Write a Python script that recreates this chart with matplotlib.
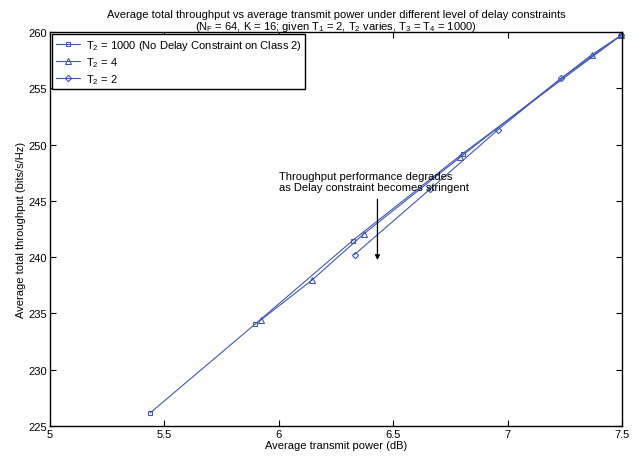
import numpy as np
import matplotlib
matplotlib.use("Agg")
import matplotlib.pyplot as plt

plt.rcParams['font.family'] = ['Liberation Sans', 'DejaVu Sans']
plt.rcParams['mathtext.fontset'] = 'custom'
plt.rcParams['mathtext.rm'] = 'Liberation Sans'
plt.rcParams['mathtext.it'] = 'Liberation Sans'

# Data
p_t1000 = [5.439, 5.896, 6.322, 6.803, 7.497]
r_t1000 = [226.19, 234.05, 241.47, 249.2, 259.73]

p_t4 = [5.92, 6.147, 6.371, 6.793, 7.368, 7.497]
r_t4 = [234.4, 238.0, 242.06, 248.9, 258.0, 259.73]

p_t2 = [6.331, 6.66, 6.958, 7.235, 7.497]
r_t2 = [240.24, 246.03, 251.33, 255.92, 259.73]

labels = [r'T$_2$ = 1000 (No Delay Constraint on Class 2)', r'T$_2$ = 4', r'T$_2$ = 2']
xticks = [5, 5.5, 6, 6.5, 7, 7.5]
xticklabels = ['5', '5.5', '6', '6.5', '7', '7.5']
yticks = [225, 230, 235, 240, 245, 250, 255, 260]

blue = '#4058b4'

fig = plt.figure(figsize=(6.38, 4.6), dpi=100)
ax = fig.add_axes([0.0784, 0.0717, 0.8966, 0.8563])

kw = dict(color=blue, lw=0.8, mfc='none', mec=blue, mew=0.8, clip_on=False)
ax.plot(p_t1000, r_t1000, marker='s', ms=3.5, label=labels[0], **kw)
ax.plot(p_t4, r_t4, marker='^', ms=4, label=labels[1], **kw)
ax.plot(p_t2, r_t2, marker='D', ms=3.2, label=labels[2], **kw)

ax.set_xlim(5, 7.5)
ax.set_ylim(225, 260)
ax.set_xticks(xticks)
ax.set_xticklabels(xticklabels)
ax.set_yticks(yticks)
ax.tick_params(direction='in', top=True, right=True, labelsize=8, length=4, pad=2)
for s in ax.spines.values():
    s.set_linewidth(1.0)

ax.set_xlabel('Average transmit power (dB)', fontsize=8, labelpad=1)
ax.set_ylabel('Average total throughput (bits/s/Hz)', fontsize=8, labelpad=2)
ax.set_title('Average total throughput vs average transmit power under different level of delay constraints\n'
             r'(N$_F$ = 64, K = 16; given T$_1$ = 2, T$_2$ varies, T$_3$ = T$_4$ = 1000)',
             fontsize=8, linespacing=1.0, pad=2)

ax.text(6.0, 245.8, 'Throughput performance degrades\nas Delay constraint becomes stringent',
        fontsize=8, ha='left', va='bottom', linespacing=1.1)
ax.annotate('', xy=(6.431, 239.5), xytext=(6.431, 245.4),
            arrowprops=dict(arrowstyle='-|>', color='black', lw=0.9, mutation_scale=7))

leg = ax.legend(loc='upper left', fontsize=8, handlelength=2.2, borderaxespad=0.2,
                fancybox=False, edgecolor='black', framealpha=1, labelspacing=0.3,
                borderpad=0.3, handletextpad=0.5)
leg.get_frame().set_linewidth(1.0)

fig.savefig('out.png', dpi=100)
